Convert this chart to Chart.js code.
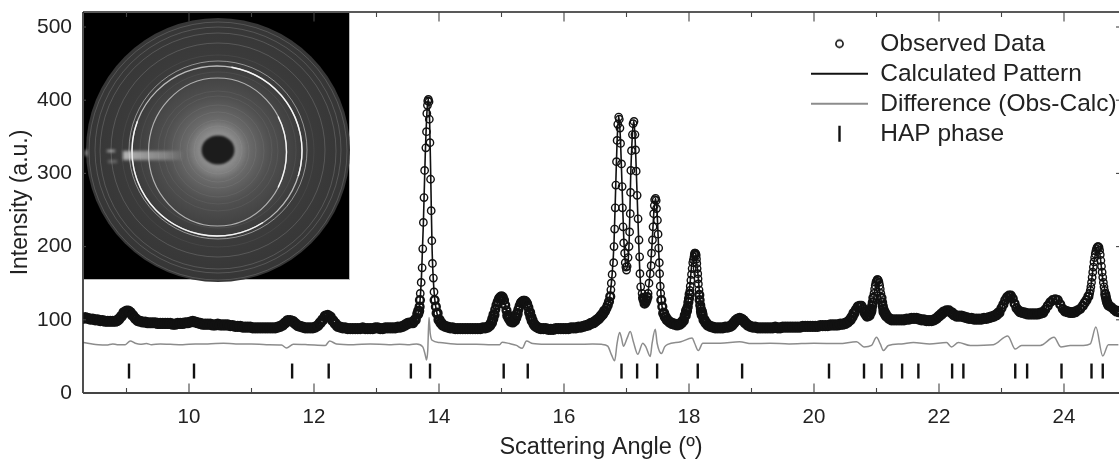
<!DOCTYPE html>
<html><head><meta charset="utf-8">
<style>html,body{margin:0;padding:0;background:#fff;overflow:hidden}canvas{display:block}</style>
<script src="https://cdn.jsdelivr.net/npm/chart.js@4"></script>
</head><body><canvas id="c" width="1119" height="459"></canvas>
<script>
const xLabel = "Scattering Angle (º)";
const yLabel = "Intensity (a.u.)";
const legendLabels = ["Observed Data","Calculated Pattern","Difference (Obs-Calc)","HAP phase"];

const obsLow = [[8.30,102],[8.34,103],[8.38,102],[8.42,101],[8.46,101],[8.50,100],[8.54,100],[8.58,99],[8.62,99],[8.66,98],[8.70,98],[8.74,98],[8.78,98],[8.82,98],[8.85,99],[8.88,101],[8.92,105],[8.96,110],[9.00,112],[9.03,112],[9.06,110],[9.10,106],[9.14,102],[9.18,99],[9.22,98],[9.26,97],[9.30,97],[9.34,96],[9.38,96],[9.42,96],[9.46,96],[9.50,95],[9.54,95],[9.58,95],[9.62,95],[9.66,95],[9.70,95],[9.74,94],[9.78,94],[9.82,95],[9.86,95],[9.90,95],[9.94,96],[9.98,96],[10.02,97],[10.06,98],[10.10,97],[10.14,96],[10.18,95],[10.22,94],[10.26,94],[10.30,94],[10.34,94],[10.38,93],[10.42,93],[10.46,94],[10.50,93],[10.54,93],[10.58,93],[10.62,93],[10.66,92],[10.70,92],[10.74,91],[10.78,91],[10.82,91],[10.86,90],[10.90,90],[10.94,90],[10.98,90],[11.02,89],[11.06,89],[11.10,89],[11.14,89],[11.18,89],[11.22,89],[11.26,89],[11.30,89],[11.34,89],[11.38,89],[11.42,90],[11.46,91],[11.50,93],[11.54,96],[11.58,99],[11.62,99],[11.66,98],[11.70,95],[11.74,92],[11.78,91],[11.82,90],[11.86,89],[11.90,89],[11.94,89],[11.98,89],[12.02,90],[12.06,92],[12.10,96],[12.14,100],[12.18,105],[12.22,106],[12.26,104],[12.30,99],[12.34,95],[12.38,91],[12.42,90],[12.46,89],[12.50,89],[12.54,88],[12.58,88],[12.62,88],[12.66,88],[12.70,88],[12.74,88],[12.78,89],[12.82,88],[12.86,88],[12.90,88],[12.94,88],[12.98,89],[13.02,89],[13.06,88],[13.10,88],[13.14,89],[13.18,89],[13.22,89],[13.26,89],[13.30,89],[13.34,90],[13.38,90],[13.42,91],[13.46,93],[13.50,95],[13.54,96],[13.58,96],[13.62,100],[13.66,108]];
const obsPeak14 = [[13.675,112],[13.69,118],[13.695,127],[13.70,136],[13.715,151],[13.73,171],[13.74,197],[13.75,233],[13.76,267],[13.77,304],[13.79,335],[13.80,357],[13.805,382],[13.815,393],[13.82,399],[13.83,401],[13.84,398],[13.845,374],[13.855,342],[13.865,292],[13.875,249],[13.885,208],[13.895,177],[13.91,157],[13.92,138],[13.93,127],[13.95,118],[13.97,109],[14.00,100],[14.03,96],[14.06,93],[14.10,91],[14.14,90],[14.18,89]];
const obsMid = [[14.22,89],[14.26,88],[14.30,88],[14.34,88],[14.38,88],[14.42,88],[14.46,88],[14.50,88],[14.54,88],[14.58,88],[14.62,88],[14.66,88],[14.70,89],[14.74,89],[14.78,90],[14.81,92],[14.84,96],[14.86,101],[14.88,107],[14.90,114],[14.92,120],[14.94,125],[14.96,129],[14.98,131],[15.00,132],[15.02,131],[15.04,127],[15.06,120],[15.08,113],[15.10,106],[15.12,102],[15.15,98],[15.18,97],[15.21,99],[15.23,103],[15.25,108],[15.27,114],[15.29,119],[15.31,123],[15.33,125],[15.35,126],[15.37,126],[15.39,125],[15.41,122],[15.43,117],[15.45,110],[15.47,104],[15.49,99],[15.52,94],[15.55,91],[15.59,89],[15.63,88],[15.67,88],[15.71,88],[15.75,87],[15.79,87],[15.83,87],[15.87,88],[15.91,88],[15.95,88],[15.99,88],[16.03,88],[16.07,88],[16.11,89],[16.15,89],[16.19,89],[16.23,90],[16.27,90],[16.31,91],[16.35,92],[16.39,93],[16.43,95],[16.47,96],[16.50,98],[16.53,100],[16.56,102],[16.59,105],[16.62,108],[16.65,112],[16.68,116],[16.70,120],[16.72,125]];
const obsTriplet = [[16.74,132],[16.75,141],[16.757,150],[16.77,162],[16.795,178],[16.80,200],[16.81,224],[16.82,253],[16.83,284],[16.84,316],[16.85,345],[16.86,367],[16.875,377],[16.885,374],[16.895,362],[16.905,341],[16.92,313],[16.93,282],[16.935,253],[16.945,227],[16.955,205],[16.97,191],[16.98,178],[16.99,172],[17.00,168],[17.01,173],[17.025,185],[17.04,200],[17.05,220],[17.06,245],[17.065,274],[17.07,304],[17.08,331],[17.095,353],[17.105,368],[17.12,371],[17.135,353],[17.145,332],[17.155,303],[17.17,270],[17.185,238],[17.20,209],[17.21,186],[17.215,163],[17.227,145],[17.25,136],[17.265,130],[17.275,127],[17.29,122],[17.305,124],[17.32,127],[17.335,131],[17.345,136],[17.36,150],[17.38,163],[17.395,174],[17.40,191],[17.415,209],[17.425,227],[17.435,245],[17.445,256],[17.45,264],[17.465,266],[17.475,263],[17.48,252],[17.495,236],[17.505,217],[17.515,198],[17.525,178],[17.53,163],[17.54,146],[17.547,136],[17.557,127],[17.573,118],[17.595,109],[17.62,104],[17.65,100],[17.69,97],[17.73,95],[17.77,94],[17.81,93],[17.85,94],[17.88,96],[17.91,99],[17.94,106]];
const obsPeak18 = [[17.96,112],[17.97,115],[17.98,118],[17.99,124],[18.00,129],[18.01,135],[18.015,140],[18.02,146],[18.03,154],[18.04,162],[18.05,170],[18.06,178],[18.07,182],[18.08,186],[18.085,189],[18.09,191],[18.10,191],[18.11,190],[18.115,188],[18.12,183],[18.125,177],[18.13,170],[18.14,163],[18.145,156],[18.15,149],[18.16,141],[18.165,134],[18.17,127],[18.18,120],[18.19,115],[18.20,111],[18.21,107],[18.24,100],[18.27,96],[18.30,93],[18.34,91],[18.38,90],[18.42,89],[18.46,89],[18.50,89],[18.54,89],[18.58,90],[18.62,90],[18.66,91],[18.69,93],[18.72,96],[18.75,99],[18.78,101],[18.81,102],[18.84,101],[18.87,99],[18.90,96],[18.94,93],[18.98,91],[19.02,90],[19.06,90],[19.10,89],[19.14,89],[19.18,89],[19.22,89],[19.26,89],[19.30,89],[19.34,89],[19.38,90],[19.42,89],[19.46,89],[19.50,90],[19.54,90],[19.58,90],[19.62,90],[19.66,90],[19.70,90],[19.74,90],[19.78,90],[19.82,91],[19.86,91],[19.90,91],[19.94,91],[19.98,91],[20.02,91],[20.06,91],[20.10,92],[20.14,92],[20.18,92],[20.22,92],[20.26,93],[20.30,93],[20.34,93],[20.38,93],[20.42,94],[20.46,94],[20.50,95],[20.54,97],[20.58,100],[20.61,104],[20.64,109],[20.67,114],[20.70,118],[20.73,119],[20.76,119],[20.79,115],[20.82,109],[20.85,105],[20.88,106]];
const obsHigh = [[20.90,110],[20.91,112],[20.92,115],[20.93,119],[20.94,124],[20.95,130],[20.96,136],[20.97,142],[20.98,147],[20.99,151],[21.00,153],[21.01,155],[21.02,155],[21.03,154],[21.04,151],[21.05,147],[21.06,142],[21.07,136],[21.08,130],[21.09,124],[21.10,119],[21.11,115],[21.12,111],[21.14,108],[21.16,105],[21.20,102],[21.24,100],[21.28,100],[21.32,100],[21.36,100],[21.40,100],[21.44,100],[21.48,101],[21.52,101],[21.56,102],[21.60,102],[21.64,102],[21.68,101],[21.72,100],[21.76,100],[21.80,99],[21.84,99],[21.88,99],[21.92,100],[21.96,102],[22.00,105],[22.04,108],[22.08,111],[22.12,113],[22.16,113],[22.20,110],[22.24,107],[22.28,105],[22.32,105],[22.36,105],[22.40,104],[22.44,103],[22.48,102],[22.52,102],[22.56,101],[22.60,101],[22.64,101],[22.68,101],[22.72,102],[22.76,102],[22.80,103],[22.84,104],[22.88,105],[22.92,107],[22.96,110],[23.00,116],[23.03,121],[23.06,127],[23.09,131],[23.12,133],[23.15,133],[23.18,129],[23.21,122],[23.24,116],[23.27,113],[23.30,111],[23.34,110],[23.38,109],[23.42,108],[23.46,108],[23.50,108],[23.54,108],[23.58,108],[23.62,109],[23.66,110],[23.70,114],[23.74,119],[23.78,124],[23.82,127],[23.86,128],[23.90,127],[23.94,121],[23.98,115],[24.02,112],[24.06,111],[24.10,110],[24.14,110],[24.18,111],[24.22,113],[24.26,115],[24.30,119],[24.33,123],[24.36,127],[24.39,132],[24.41,136],[24.42,140],[24.43,145],[24.44,151],[24.45,158],[24.46,165],[24.47,172],[24.48,179],[24.49,185],[24.50,190],[24.51,194],[24.52,197],[24.53,199],[24.54,200],[24.55,200],[24.56,199],[24.57,195],[24.58,189],[24.59,181],[24.60,173],[24.61,165],[24.62,158],[24.63,151],[24.64,145],[24.65,140],[24.66,135],[24.67,131],[24.68,127],[24.69,124],[24.70,122],[24.71,120],[24.72,119],[24.76,117],[24.80,114],[24.84,112],[24.88,111]];

const calcPattern = [[8.30,102],[8.80,98],[8.90,103],[9.02,112],[9.15,101],[9.30,97],[10.00,96],[10.06,98],[10.20,94],[11.40,89],[11.60,99],[11.80,90],[12.00,89],[12.20,106],[12.40,90],[13.40,90],[13.55,96],[13.64,104],[13.69,120],[13.72,160],[13.75,232],[13.78,325],[13.81,388],[13.83,402],[13.85,372],[13.87,285],[13.89,195],[13.92,140],[13.97,108],[14.10,91],[14.70,89],[14.85,98],[14.92,120],[15.00,132],[15.06,120],[15.12,102],[15.18,97],[15.27,114],[15.36,126],[15.44,114],[15.52,94],[15.70,88],[16.40,93],[16.60,105],[16.72,125],[16.77,162],[16.80,205],[16.83,290],[16.85,345],[16.875,379],[16.90,352],[16.93,280],[16.96,205],[17.00,170],[17.04,202],[17.07,304],[17.10,360],[17.12,372],[17.15,320],[17.18,245],[17.22,155],[17.29,122],[17.36,148],[17.41,205],[17.44,250],[17.465,266],[17.49,245],[17.52,185],[17.56,125],[17.62,104],[17.80,93],[17.92,100],[18.00,135],[18.05,180],[18.09,192],[18.14,165],[18.19,115],[18.30,93],[18.50,89],[18.70,94],[18.81,102],[18.94,93],[19.10,89],[20.50,95],[20.60,103],[20.74,119],[20.85,105],[20.94,122],[21.01,155],[21.08,124],[21.20,102],[21.60,102],[21.85,99],[22.14,113],[22.28,105],[22.60,101],[22.95,109],[23.13,133],[23.27,113],[23.60,108],[23.86,128],[24.02,112],[24.30,119],[24.42,140],[24.48,180],[24.55,200],[24.62,156],[24.70,126],[24.88,111]];

const diffCurve = [[8.31,69],[8.38,68],[8.45,67],[8.55,66],[8.68,65.5],[8.78,67],[8.85,66],[8.98,66],[9.06,71],[9.14,68],[9.22,66.5],[9.32,67.5],[9.40,66],[9.54,67],[9.70,66.5],[9.90,66],[10.10,67],[10.30,67],[10.55,68],[10.75,67],[11.00,67],[11.24,66],[11.48,65.5],[11.56,61.5],[11.67,66.5],[11.90,66],[12.18,65],[12.25,71],[12.36,67],[12.63,66],[12.90,67],[13.20,66],[13.37,66.5],[13.53,66],[13.64,67],[13.74,63],[13.78,52],[13.80,45],[13.82,58],[13.84,103],[13.86,81],[13.89,72],[14.01,69],[14.33,66.5],[14.60,66.5],[14.84,66],[14.97,66],[15.01,69.5],[15.13,67.5],[15.24,65],[15.33,61],[15.40,71],[15.50,67.5],[15.70,66.5],[15.93,66.5],[16.20,66.5],[16.46,67],[16.60,66.5],[16.70,64],[16.76,52],[16.81,44],[16.85,68],[16.89,82.5],[16.92,75],[16.95,64],[17.01,75],[17.06,84],[17.11,70],[17.18,53],[17.26,68],[17.31,63],[17.38,50],[17.41,68],[17.46,87],[17.49,68],[17.56,54],[17.61,63],[17.66,66.5],[17.87,70],[18.05,75],[18.09,68],[18.15,58],[18.22,68],[18.50,68],[18.81,70],[19.00,67.5],[19.30,68],[19.60,67],[20.00,68],[20.40,67.5],[20.68,70],[20.80,63],[20.92,65],[21.00,76],[21.06,67],[21.11,58],[21.19,65],[21.40,67],[21.59,69],[21.85,67],[22.12,69],[22.20,63],[22.31,69],[22.50,65],[22.87,66],[23.10,78],[23.22,60],[23.32,65],[23.62,65],[23.84,76],[23.95,63],[24.10,65],[24.31,65],[24.42,67],[24.51,90],[24.62,50.5],[24.71,66],[24.87,66]];

const hapAngle = [9.04,10.08,11.65,12.235,13.55,13.856,15.035,15.42,16.92,17.17,17.49,18.14,18.85,20.24,20.80,21.08,21.41,21.67,22.21,22.39,23.22,23.41,23.96,24.44,24.62];
const hapLevel = hapAngle.map(() => 30);

const xMin = 8.304, xMax = 24.88, yMin = 0, yMax = 520.5;
const ringRadii = [24,31,38,46,54,60,78,96,107,118,123,129];

const toXY = p => ({x:p[0], y:p[1]});
const observed = [...obsLow,...obsPeak14,...obsMid,...obsTriplet,...obsPeak18,...obsHigh].map(toXY);
const bandRadius = ctx => !ctx.raw ? 3.7 : ctx.raw.y <= 112 ? 4 : ctx.raw.y <= 135 ? 3.9 : 3.7;
const bandStroke = ctx => !ctx.raw ? 1.4 : ctx.raw.y <= 112 ? 3.2 : ctx.raw.y <= 135 ? 2.4 : 1.4;

function glyph(draw){
  const g = document.createElement('canvas'); g.width = 57; g.height = 22;
  draw(g.getContext('2d')); return g;
}
const glyphs = [
  glyph(c=>{c.strokeStyle='#111';c.lineWidth=1.6;c.beginPath();c.arc(28.5,11,3.6,0,7);c.stroke();}),
  glyph(c=>{c.strokeStyle='#111';c.lineWidth=1.8;c.beginPath();c.moveTo(0,11);c.lineTo(57,11);c.stroke();}),
  glyph(c=>{c.strokeStyle='#8c8c8c';c.lineWidth=1.8;c.beginPath();c.moveTo(0,11);c.lineTo(57,11);c.stroke();}),
  glyph(c=>{c.strokeStyle='#111';c.lineWidth=2.4;c.beginPath();c.moveTo(28.5,3);c.lineTo(28.5,19);c.stroke();})
];

const insetPlugin = {
  id:'inset',
  beforeDatasetsDraw(chart){
    const c = chart.ctx, cx=218, cy=150, R=132;
    c.save();
    c.fillStyle='#bbb'; c.fillRect(84,13,266,267);
    c.fillStyle='#000'; c.fillRect(84,13,265,266);
    c.filter='blur(0.5px)';
    const g=c.createRadialGradient(cx,cy,0,cx,cy,R);
    g.addColorStop(0,'#7c7c7c');g.addColorStop(.2,'#707070');g.addColorStop(.4,'#505050');g.addColorStop(.65,'#3c3c3c');g.addColorStop(1,'#363636');
    c.fillStyle=g;c.beginPath();c.arc(cx,cy,R,0,7);c.fill();
    ringRadii.forEach((r,i)=>{c.strokeStyle='rgba(255,255,255,'+(i>7?.18:.07)+')';c.lineWidth=.9;c.beginPath();c.arc(cx,cy+(i%2),r,0,7);c.stroke();});
    c.strokeStyle='rgba(255,255,255,.45)';c.lineWidth=1;c.beginPath();c.arc(cx,cy,89,0,7);c.stroke();
    c.strokeStyle='rgba(255,255,255,.65)';c.lineWidth=1.3;c.beginPath();c.arc(cx-1,cy+1,85,0,7);c.stroke();
    c.strokeStyle='rgba(255,255,255,.58)';c.lineWidth=1.2;c.beginPath();c.ellipse(cx-.5,cy+2,69,74,0,0,7);c.stroke();
    c.strokeStyle='rgba(255,255,255,.88)';c.lineWidth=1.4;
    c.beginPath();c.arc(cx-1,cy+1,85,1.0,3.5);c.stroke();
    c.beginPath();c.arc(cx-1,cy+1,85,-1.4,0.3);c.stroke();
    c.beginPath();c.ellipse(cx-.5,cy+2,69,74,0,-0.5,0.5);c.stroke();
    c.filter='blur(1.5px)';
    const s=c.createLinearGradient(123,0,185,0);
    s.addColorStop(0,'rgba(235,235,235,.7)');s.addColorStop(.7,'rgba(190,190,190,.45)');s.addColorStop(1,'rgba(190,190,190,0)');
    c.fillStyle=s;c.fillRect(123,151,60,9);
    c.fillStyle='rgba(220,220,220,.8)';c.fillRect(107,150,8,2);c.fillRect(85,150,2,6);
    c.fillStyle='rgba(160,160,160,.5)';c.fillRect(108,160,9,3);
    c.filter='blur(1px)';
    const h=c.createRadialGradient(cx,cy,15,cx,cy,30);
    h.addColorStop(0,'rgba(170,170,170,.55)');h.addColorStop(1,'rgba(170,170,170,0)');
    c.fillStyle=h;c.beginPath();c.arc(cx,cy,30,0,7);c.fill();
    c.fillStyle='#1c1c1c';c.beginPath();c.ellipse(cx,cy,16.5,14.5,0,0,7);c.fill();
    c.restore();
  }
};

const framePlugin = {
  id:'frame',
  afterDatasetsDraw(chart){
    const c=chart.ctx, a=chart.chartArea, sx=chart.scales.x, sy=chart.scales.y;
    c.save();
    c.lineCap='butt';
    c.strokeStyle='#222';c.lineWidth=1.6;
    c.beginPath();c.moveTo(a.left,a.top);c.lineTo(a.left,a.bottom);c.stroke();
    c.beginPath();c.moveTo(a.left,a.top);c.lineTo(a.right,a.top);c.stroke();
    c.strokeStyle='#444';c.lineWidth=1.8;
    c.beginPath();c.moveTo(a.left,a.bottom);c.lineTo(a.right,a.bottom);c.stroke();
    c.strokeStyle='#444';c.lineWidth=1.1;
    sx.ticks.forEach(t=>{
      const p=sx.getPixelForValue(t.value), L=(t.value%2===0)?9.5:5;
      c.beginPath();c.moveTo(p,a.bottom);c.lineTo(p,a.bottom-L);c.stroke();
      c.beginPath();c.moveTo(p,a.top);c.lineTo(p,a.top+L);c.stroke();
    });
    sy.ticks.forEach(t=>{
      const p=sy.getPixelForValue(t.value);
      c.beginPath();c.moveTo(a.left,p);c.lineTo(a.left+3,p);c.stroke();
      c.beginPath();c.moveTo(a.right,p);c.lineTo(a.right-3,p);c.stroke();
    });
    c.restore();
  }
};

const legendPlacer = {
  id:'legendPlacer',
  afterLayout(chart){ const l=chart.legend; l.left=805.5; l.right=1119; l.top=26; l.bottom=300; }
};

new Chart(document.getElementById('c'),{
  type:'scatter',
  data:{datasets:[
    {label:legendLabels[0],data:observed,pointStyle:'circle',
      pointRadius:bandRadius,pointBorderWidth:bandStroke,
      pointBorderColor:'#111',pointBackgroundColor:'rgba(0,0,0,0)',showLine:false},
    {label:legendLabels[1],data:calcPattern.map(toXY),showLine:true,borderColor:'#111',borderWidth:1.6,pointRadius:0,cubicInterpolationMode:'monotone'},
    {label:legendLabels[2],data:diffCurve.map(toXY),showLine:true,borderColor:'#8c8c8c',borderWidth:1.5,pointRadius:0,cubicInterpolationMode:'monotone'},
    {label:legendLabels[3],data:hapAngle.map((x,i)=>({x,y:hapLevel[i]})),showLine:false,pointStyle:'line',rotation:90,pointRadius:7.5,pointBorderWidth:2.4,pointBorderColor:'#111',borderColor:'#111'}
  ]},
  options:{
    responsive:false,animation:false,devicePixelRatio:1,events:[],
    layout:{padding:{top:12,right:0,left:0,bottom:0},autoPadding:false},
    scales:{
      x:{type:'linear',min:xMin,max:xMax,
        afterFit(s){s.height=66;s.paddingLeft=0;s.paddingRight=0;},
        grid:{drawOnChartArea:false,drawTicks:false},border:{display:false},
        title:{display:true,text:xLabel,color:'#222',font:{family:'"Liberation Sans"',size:23.5,lineHeight:1},padding:{top:6,bottom:0}},
        ticks:{stepSize:1,includeBounds:false,autoSkip:false,maxRotation:0,minRotation:0,padding:12,color:'#222',font:{family:'"Liberation Sans"',size:20.5},
          callback:v=>Number.isInteger(v)&&v%2===0?String(v):''}},
      y:{type:'linear',min:yMin,max:yMax,
        afterFit(s){s.width=83;s.paddingTop=0;s.paddingBottom=0;},
        grid:{drawOnChartArea:false,drawTicks:false},border:{display:false},
        title:{display:true,text:yLabel,color:'#222',font:{family:'"Liberation Sans"',size:23},padding:{top:7,bottom:2}},
        ticks:{stepSize:100,includeBounds:false,padding:11,color:'#222',font:{family:'"Liberation Sans"',size:21}}}
    },
    plugins:{
      tooltip:{enabled:false},
      legend:{display:true,position:'chartArea',align:'start',
        labels:{usePointStyle:true,pointStyleWidth:57,boxHeight:22,padding:5.5,color:'#222',font:{family:'"Liberation Sans"',size:24.5},
          generateLabels:()=>legendLabels.map((t,i)=>({text:t,pointStyle:glyphs[i],fontColor:'#222',datasetIndex:i,lineWidth:0,hidden:false}))}}
    }
  },
  plugins:[insetPlugin,framePlugin,legendPlacer]
});
</script></body></html>
